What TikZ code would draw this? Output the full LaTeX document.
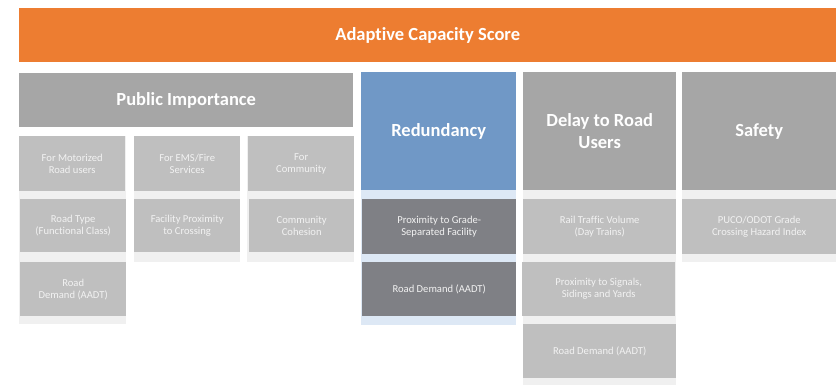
\documentclass[tikz,border=0pt]{standalone}
\usepackage{fontspec}
\setmainfont[Ligatures=NoCommon]{Carlito}
\definecolor{orangehdr}{HTML}{ED7D31}
\definecolor{greyhdr}{HTML}{A6A6A6}
\definecolor{bluehdr}{HTML}{7098C6}
\definecolor{subgrey}{HTML}{BFBFBF}
\definecolor{subdark}{HTML}{7F8085}
\definecolor{panelgrey}{HTML}{F0F0F0}
\definecolor{panelblue}{HTML}{DDE8F5}
\definecolor{subtext}{HTML}{F2F2F2}
\begin{document}
\begin{tikzpicture}[x=1pt,y=-1pt,
  hdr/.style={anchor=north west, inner sep=0pt, align=center, text=white,
    font=\fontsize{18.5}{22}\selectfont\bfseries},
  subbox/.style={anchor=north west, inner sep=0pt, align=center, fill=subgrey, text=subtext,
    font=\fontsize{10.6}{12}\selectfont},
  darkbox/.style={subbox, fill=subdark, text=subtext},
  panel/.style={anchor=north west, inner sep=0pt, fill=panelgrey},
  bpanel/.style={panel, fill=panelblue}]
\useasboundingbox (0,0) rectangle (839,385);
% background panels
\node[panel, minimum width=107, minimum height=188] (p1) at (19,136) {};
\node[panel, minimum width=106, minimum height=126] (p2) at (134,136) {};
\node[panel, minimum width=107, minimum height=126] (p3) at (247,136) {};
\node[bpanel, minimum width=155, minimum height=135] (p4) at (361,190) {};
\node[panel, minimum width=153, minimum height=195] (p5) at (523,190) {};
\node[panel, minimum width=154, minimum height=72] (p6) at (682,190) {};
% headers
\node[hdr, fill=orangehdr, minimum width=817, minimum height=54] (acs) at (19,8) {Adaptive Capacity Score};
\node[hdr, fill=greyhdr, minimum width=334, minimum height=54] (pi) at (19,73) {Public Importance};
\node[hdr, fill=bluehdr, minimum width=155, minimum height=118] (red) at (361,72) {Redundancy};
\node[hdr, fill=greyhdr, minimum width=153, minimum height=118] (del) at (523,72) {Delay to Road\\Users};
\node[hdr, fill=greyhdr, minimum width=154, minimum height=118] (saf) at (682,72) {Safety};
% public importance
\node[subbox, minimum width=106, minimum height=55] (pa1) at (19,136) {For Motorized\\Road users};
\node[subbox, minimum width=106, minimum height=55] (pb1) at (134,136) {For EMS/Fire\\Services};
\node[subbox, minimum width=106, minimum height=55] (pc1) at (248,136) {For\\Community};
\node[subbox, minimum width=106, minimum height=53] (pa2) at (20,199) {Road Type\\(Functional Class)};
\node[subbox, minimum width=106, minimum height=53] (pb2) at (134,199) {Facility Proximity\\to Crossing};
\node[subbox, minimum width=105, minimum height=53] (pc2) at (249,199) {Community\\Cohesion};
\node[subbox, minimum width=106, minimum height=54] (pa3) at (20,262) {Road\\Demand (AADT)};
% redundancy
\node[darkbox, minimum width=154, minimum height=55] (r1) at (362,199) {Proximity to Grade-\\Separated Facility};
\node[darkbox, minimum width=154, minimum height=54] (r2) at (362,262) {Road Demand (AADT)};
% delay
\node[subbox, minimum width=153, minimum height=55] (d1) at (523,199) {Rail Traffic Volume\\(Day Trains)};
\node[subbox, minimum width=153, minimum height=54] (d2) at (522,262) {Proximity to Signals,\\Sidings and Yards};
\node[subbox, minimum width=153, minimum height=54] (d3) at (523,324) {Road Demand (AADT)};
% safety
\node[subbox, minimum width=154, minimum height=55] (s1) at (682,199) {PUCO/ODOT Grade\\Crossing Hazard Index};
\end{tikzpicture}
\end{document}
